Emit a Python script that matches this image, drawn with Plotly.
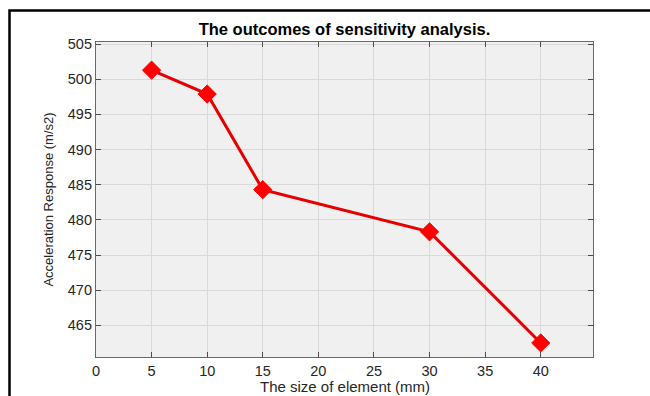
import plotly.graph_objects as go

# Mesh element size (mm) and resulting peak acceleration (m/s^2)
element_size = [5, 10, 15, 30, 40]
acceleration = [501.3, 497.9, 484.3, 478.3, 462.5]

x_ticks = [0, 5, 10, 15, 20, 25, 30, 35, 40]
y_ticks = [465, 470, 475, 480, 485, 490, 495, 500, 505]

W, H = 650, 396
L, R, T, B = 96, 57, 42, 39
pw, ph = W - L - R, H - T - B

fig = go.Figure()
fig.add_trace(go.Scatter(
    x=element_size, y=acceleration, mode="lines+markers",
    line=dict(color="#e60000", width=3),
    marker=dict(symbol="diamond", size=14, color="#ff0000",
                line=dict(color="#ff0000", width=1)),
    showlegend=False,
))

axis_common = dict(
    showline=True, linecolor="#6a6a6a", linewidth=1.2, mirror="ticks",
    ticks="inside", ticklen=5, tickcolor="#4a4a4a", tickwidth=1,
    showgrid=True, gridcolor="#d9d9d9", gridwidth=1, zeroline=False,
    automargin=False,
    tickfont=dict(family="Liberation Sans, Arial", size=14.5, color="#262626"),
)

fig.update_xaxes(range=[0, 44.7], tickvals=x_ticks, **axis_common)
fig.update_yaxes(
    range=[460.5, 505.3], tickvals=y_ticks,
    title=dict(text="Acceleration Response (m/s2)", standoff=11,
               font=dict(family="Liberation Sans, Arial", size=13, color="#262626")),
    **axis_common,
)

# X-axis title placed just under the tick labels
fig.add_annotation(
    text="The size of element (mm)", xref="paper", yref="paper",
    x=0.5, y=-(395.5 - (T + ph)) / ph, xanchor="center", yanchor="bottom",
    showarrow=False, borderpad=0,
    font=dict(family="Liberation Sans, Arial", size=15, color="#262626"),
)

# Outer black frame (left and top edges visible)
fig.add_shape(type="rect", xref="paper", yref="paper",
              x0=(9.5 - L) / pw, x1=1.3, y0=-0.3, y1=1 + (T - 10.5) / ph,
              line=dict(color="black", width=2.5), fillcolor="rgba(0,0,0,0)",
              layer="below")

fig.update_layout(
    width=W, height=H,
    margin=dict(l=L, r=R, t=T, b=B, autoexpand=False),
    paper_bgcolor="white", plot_bgcolor="#f0f0f0",
    title=dict(text="<b>The outcomes of sensitivity analysis.</b>",
               x=(L + pw / 2) / W, xanchor="center", y=1 - 29 / H, yanchor="middle",
               font=dict(family="Liberation Sans, Arial", size=16.5, color="black")),
)

fig.write_html("out.html")
